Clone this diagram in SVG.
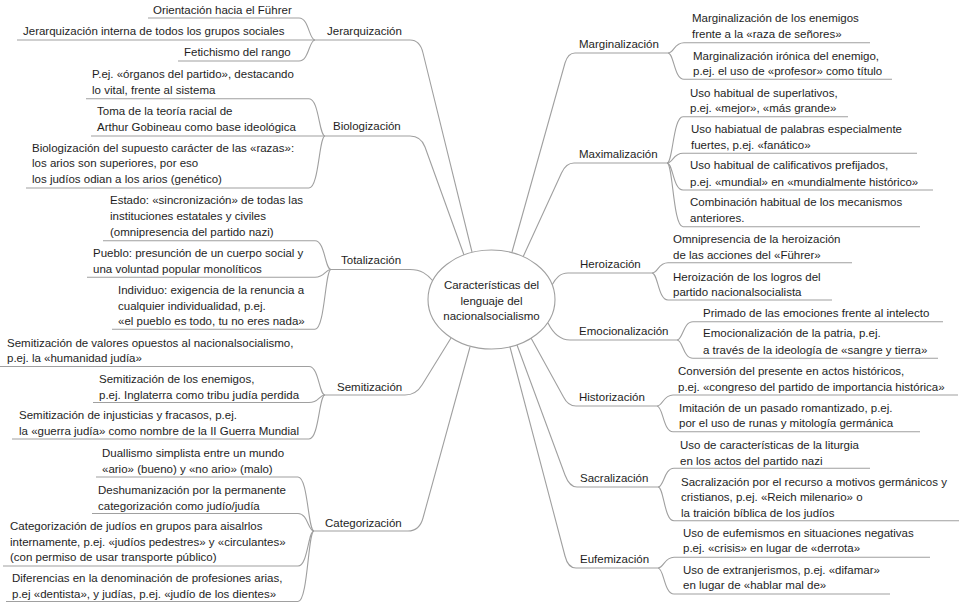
<svg xmlns="http://www.w3.org/2000/svg" width="960" height="603" viewBox="0 0 960 603">
<style>
.t{font-family:"Liberation Sans",Arial,sans-serif;font-size:11.5px;fill:#1e1e1e}
.m{text-anchor:middle}
.c{fill:none;stroke:#a0a0a0;stroke-width:1.1}
</style>
<rect width="960" height="603" fill="#ffffff"/>
<g id="connectors" class="c">
<path d="M315,40 H410 Q420,40 423,53 L472,252"/>
<path d="M325,136 H410 Q421,136 425,147 L464,255"/>
<path d="M331,269.5 H410 C421,269.5 427,274 433,281"/>
<path d="M325,395 H405 Q416,395 422,385 L451,338"/>
<path d="M314,531 H408 Q419.5,531 423,518 L470,347"/>
<path d="M668,53 H575 Q568,53 565,63 L512,252"/>
<path d="M667,163 H574 Q566,163 561.5,173 L523,257"/>
<path d="M652,273 H568 C560,273 556,278 552,285"/>
<path d="M677,340 H570 C560,340 553,333 548,323"/>
<path d="M657,406 H576 Q568,406 563.5,397 L531,338"/>
<path d="M658,487 H577 Q569.5,487 565,475 L517,345"/>
<path d="M658,568 H576 Q568,568 565,556 L510,347"/>
<path d="M315,40 C309,40 309,18 299,18 H148"/>
<path d="M315,40 H17"/>
<path d="M315,40 C309,40 309,61 299,61 H178"/>
<path d="M325,136 C319,136 319,98.7 309,98.7 H86"/>
<path d="M325,136 H91"/>
<path d="M325,136 C319,136 319,188 309,188 H26"/>
<path d="M331,269.5 C325,269.5 325,240.7 315,240.7 H103"/>
<path d="M331,269.5 C325,269.5 325,277.3 315,277.3 H87"/>
<path d="M331,269.5 C325,269.5 325,329.3 315,329.3 H112"/>
<path d="M325,395 C319,395 319,366.5 309,366.5 H0"/>
<path d="M325,395 C319,395 319,402.5 309,402.5 H93"/>
<path d="M325,395 C319,395 319,439 309,439 H12"/>
<path d="M314,531 C308,531 308,477 298,477 H96"/>
<path d="M314,531 C308,531 308,513.5 298,513.5 H92"/>
<path d="M314,531 C308,531 308,566 298,566 H3"/>
<path d="M314,531 C308,531 308,601.5 298,601.5 H6"/>
<path d="M668,53 C674,53 674,42.7 684,42.7 H870"/>
<path d="M668,53 C674,53 674,79.3 684,79.3 H892"/>
<path d="M667,163 C673,163 673,116.7 683,116.7 H848"/>
<path d="M667,163 C673,163 673,153.3 683,153.3 H917"/>
<path d="M667,163 C673,163 673,190 683,190 H933"/>
<path d="M667,163 C673,163 673,226.7 683,226.7 H920"/>
<path d="M652,273 C658,273 658,262.7 668,262.7 H852"/>
<path d="M652,273 C658,273 658,300 668,300 H832"/>
<path d="M677,340 C683,340 683,321.7 693,321.7 H943"/>
<path d="M677,340 C683,340 683,358.3 693,358.3 H938"/>
<path d="M657,406 C663,406 663,395 673,395 H958"/>
<path d="M657,406 C663,406 663,431.7 673,431.7 H920"/>
<path d="M658,487 C664,487 664,468.3 674,468.3 H870"/>
<path d="M658,487 C664,487 664,520.7 674,520.7 H959"/>
<path d="M658,568 C664,568 664,557.3 674,557.3 H930"/>
<path d="M658,568 C664,568 664,594 674,594 H890"/>
</g>
<g id="center">
<ellipse cx="491.5" cy="299.5" rx="63.5" ry="49.5" fill="#ffffff" stroke="#a0a0a0" stroke-width="1.1"/>
<text class="t m"><tspan x="491.5" y="288.5">Características del</tspan><tspan x="491.5" y="304.5">lenguaje del</tspan><tspan x="491.5" y="320">nacionalsocialismo</tspan></text>
</g>
<g id="jerarquizacion"><text class="t" x="327" y="35">Jerarquización</text></g>
<g id="jer1"><text class="t" x="153" y="13.5">Orientación hacia el Führer</text></g>
<g id="jer2"><text class="t" x="23" y="35">Jerarquización interna de todos los grupos sociales</text></g>
<g id="jer3"><text class="t" x="184" y="56">Fetichismo del rango</text></g>
<g id="biologizacion"><text class="t" x="333" y="130">Biologización</text></g>
<g id="bio1"><text class="t"><tspan x="92" y="78">P.ej. «órganos del partido», destacando</tspan><tspan x="92" y="94">lo vital, frente al sistema</tspan></text></g>
<g id="bio2"><text class="t"><tspan x="97" y="115">Toma de la teoría racial de</tspan><tspan x="97" y="131">Arthur Gobineau como base ideológica</tspan></text></g>
<g id="bio3"><text class="t"><tspan x="32" y="152">Biologización del supuesto carácter de las «razas»:</tspan><tspan x="32" y="167">los arios son superiores, por eso</tspan><tspan x="32" y="183">los judíos odian a los arios (genético)</tspan></text></g>
<g id="totalizacion"><text class="t" x="341" y="264">Totalización</text></g>
<g id="tot1"><text class="t"><tspan x="110" y="204">Estado: «sincronización» de todas las</tspan><tspan x="110" y="220">instituciones estatales y civiles</tspan><tspan x="110" y="235.5">(omnipresencia del partido nazi)</tspan></text></g>
<g id="tot2"><text class="t"><tspan x="93" y="257.3">Pueblo: presunción de un cuerpo social y</tspan><tspan x="93" y="273">una voluntad popular monolíticos</tspan></text></g>
<g id="tot3"><text class="t"><tspan x="118" y="294">Individuo: exigencia de la renuncia a</tspan><tspan x="118" y="309.7">cualquier individualidad, p.ej.</tspan><tspan x="118" y="325">«el pueblo es todo, tu no eres nada»</tspan></text></g>
<g id="semitizacion"><text class="t" x="337" y="390.5">Semitización</text></g>
<g id="sem1"><text class="t"><tspan x="7" y="346.5">Semitización de valores opuestos al nacionalsocialismo,</tspan><tspan x="7" y="362">p.ej. la «humanidad judía»</tspan></text></g>
<g id="sem2"><text class="t"><tspan x="99" y="383">Semitización de los enemigos,</tspan><tspan x="99" y="398.5">p.ej. Inglaterra como tribu judía perdida</tspan></text></g>
<g id="sem3"><text class="t"><tspan x="19" y="419">Semitización de injusticias y fracasos, p.ej.</tspan><tspan x="19" y="435">la «guerra judía» como nombre de la II Guerra Mundial</tspan></text></g>
<g id="categorizacion"><text class="t" x="325" y="526.5">Categorización</text></g>
<g id="cat1"><text class="t"><tspan x="102" y="457">Duallismo simplista entre un mundo</tspan><tspan x="102" y="473">«ario» (bueno) y «no ario» (malo)</tspan></text></g>
<g id="cat2"><text class="t"><tspan x="98" y="494">Deshumanización por la permanente</tspan><tspan x="98" y="510">categorización como judío/judía</tspan></text></g>
<g id="cat3"><text class="t"><tspan x="10" y="530">Categorización de judíos en grupos para aisalrlos</tspan><tspan x="10" y="545.5">internamente, p.ej. «judíos pedestres» y «circulantes»</tspan><tspan x="10" y="561">(con permiso de usar transporte público)</tspan></text></g>
<g id="cat4"><text class="t"><tspan x="12" y="582">Diferencias en la denominación de profesiones arias,</tspan><tspan x="12" y="598">p.ej «dentista», y judías, p.ej. «judío de los dientes»</tspan></text></g>
<g id="marginalizacion"><text class="t" x="579" y="48.3">Marginalización</text></g>
<g id="marg1"><text class="t"><tspan x="692" y="22.3">Marginalización de los enemigos</tspan><tspan x="692" y="38.3">frente a la «raza de señores»</tspan></text></g>
<g id="marg2"><text class="t"><tspan x="693" y="60">Marginalización irónica del enemigo,</tspan><tspan x="693" y="75">p.ej. el uso de «profesor» como título</tspan></text></g>
<g id="maximalizacion"><text class="t" x="579" y="158.3">Maximalización</text></g>
<g id="max1"><text class="t"><tspan x="690" y="96.7">Uso habitual de superlativos,</tspan><tspan x="690" y="112.3">p.ej. «mejor», «más grande»</tspan></text></g>
<g id="max2"><text class="t"><tspan x="691" y="133">Uso habiatual de palabras especialmente</tspan><tspan x="691" y="149">fuertes, p.ej. «fanático»</tspan></text></g>
<g id="max3"><text class="t"><tspan x="690" y="169">Uso habitual de calificativos prefijados,</tspan><tspan x="690" y="185.7">p.ej. «mundial» en «mundialmente histórico»</tspan></text></g>
<g id="max4"><text class="t"><tspan x="690" y="205.7">Combinación habitual de los mecanismos</tspan><tspan x="690" y="222.3">anteriores.</tspan></text></g>
<g id="heroizacion"><text class="t" x="580" y="268.3">Heroización</text></g>
<g id="hero1"><text class="t"><tspan x="673" y="243">Omnipresencia de la heroización</tspan><tspan x="673" y="259">de las acciones del «Führer»</tspan></text></g>
<g id="hero2"><text class="t"><tspan x="673" y="280.7">Heroización de los logros del</tspan><tspan x="673" y="295.7">partido nacionalsocialista</tspan></text></g>
<g id="emocionalizacion"><text class="t" x="579" y="335">Emocionalización</text></g>
<g id="emo1"><text class="t" x="703" y="316.7">Primado de las emociones frente al intelecto</text></g>
<g id="emo2"><text class="t"><tspan x="703" y="337.3">Emocionalización de la patria, p.ej.</tspan><tspan x="703" y="354">a través de la ideología de «sangre y tierra»</tspan></text></g>
<g id="historizacion"><text class="t" x="579" y="400.7">Historización</text></g>
<g id="hist1"><text class="t"><tspan x="678" y="375">Conversión del presente en actos históricos,</tspan><tspan x="678" y="391.3">p.ej. «congreso del partido de importancia histórica»</tspan></text></g>
<g id="hist2"><text class="t"><tspan x="679" y="411.7">Imitación de un pasado romantizado, p.ej.</tspan><tspan x="679" y="427.3">por el uso de runas y mitología germánica</tspan></text></g>
<g id="sacralizacion"><text class="t" x="580" y="482.3">Sacralización</text></g>
<g id="sacr1"><text class="t"><tspan x="680" y="449">Uso de características de la liturgia</tspan><tspan x="680" y="464.7">en los actos del partido nazi</tspan></text></g>
<g id="sacr2"><text class="t"><tspan x="681" y="485.7">Sacralización por el recurso a motivos germánicos y</tspan><tspan x="681" y="501.3">cristianos, p.ej. «Reich milenario» o</tspan><tspan x="681" y="517.3">la traición bíblica de los judíos</tspan></text></g>
<g id="eufemizacion"><text class="t" x="580" y="563.3">Eufemización</text></g>
<g id="euf1"><text class="t"><tspan x="683" y="537.3">Uso de eufemismos en situaciones negativas</tspan><tspan x="683" y="552.3">p.ej. «crisis» en lugar de «derrota»</tspan></text></g>
<g id="euf2"><text class="t"><tspan x="683" y="574">Uso de extranjerismos, p.ej. «difamar»</tspan><tspan x="683" y="589">en lugar de «hablar mal de»</tspan></text></g>
</svg>
